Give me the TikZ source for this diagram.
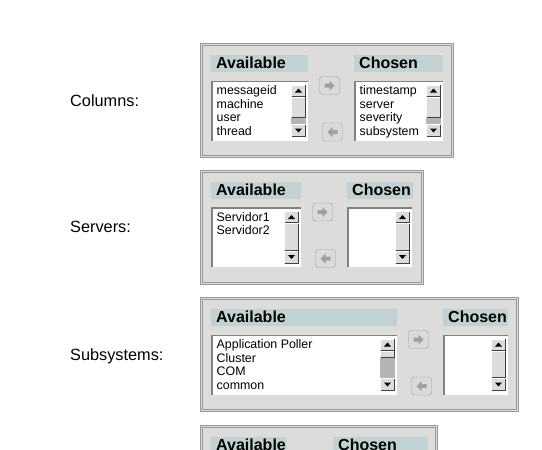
\documentclass[tikz,border=0pt]{standalone}
\usepackage{fontspec}
\setmainfont{Liberation Sans}
\definecolor{panelgray}{HTML}{DCDCDC}
\definecolor{edgegray}{HTML}{989898}
\definecolor{framegray}{HTML}{808080}
\definecolor{headteal}{HTML}{C2D1D1}
\definecolor{troughgray}{HTML}{B4B4B4}
\definecolor{btnfill}{HTML}{DADADA}
\definecolor{btnedge}{HTML}{A0A0A0}
\definecolor{arrowgray}{HTML}{A0A0A0}

\tikzset{
  rowlabel/.style={anchor=base west, inner sep=0pt, font=\fontsize{16.3}{19}\selectfont},
  headtext/.style={anchor=base west, inner sep=0pt, font=\fontsize{16}{18}\selectfont\bfseries},
  itemtext/.style={anchor=base west, inner sep=0pt, font=\fontsize{12.4}{14}\selectfont},
}

% etched panel: x1 y1 x2 y2
\newcommand{\panelbox}[4]{%
  \fill[panelgray] (#1,#2) rectangle (#3,#4);
  \draw[edgegray] (#1+0.5,#2+0.5) rectangle (#3-0.5,#4-0.5);
  \draw[edgegray] (#1+2.5,#2+2.5) rectangle (#3-2.5,#4-2.5);
}
% header strip: name x1 y1 x2 text
\newcommand{\headbox}[5]{%
  \fill[headteal] (#2,#3) rectangle (#4,#3+17);
  \node[headtext] (#1) at (#2+5,#3+13.6) {#5};
}
% raised 3d box: x1 y1 x2 y2
\newcommand{\raisedbox}[4]{%
  \fill[panelgray] (#1,#2) rectangle (#3,#4);
  \draw[white] (#1+0.5,#4-0.5) |- (#3-0.5,#2+0.5);
  \draw[black!75] (#1+0.5,#4-0.5) -| (#3-0.5,#2+0.5);
}
% list with scrollbar: x1 y1 x2 y2 thumb-end
\newcommand{\listbox}[5]{%
  \fill[white] (#1,#2) rectangle (#3,#4);
  \draw[framegray, line width=1.5pt] (#1+0.75,#4) |- (#3,#2+0.75);
  \pgfmathsetmacro\sxa{#3-17}\pgfmathsetmacro\sxb{#3-2}\pgfmathsetmacro\sxc{#3-9.5}
  \fill[troughgray] (\sxa,#5) rectangle (\sxb,#4-16.5);
  \raisedbox{\sxa}{#2+4}{\sxb}{#2+16}
  \raisedbox{\sxa}{#2+16}{\sxb}{#5}
  \raisedbox{\sxa}{#4-16.5}{\sxb}{#4-3.5}
  \fill (\sxc-3.5,#2+12) -- (\sxc+3.5,#2+12) -- (\sxc,#2+8) -- cycle;
  \fill (\sxc-3.5,#4-12) -- (\sxc+3.5,#4-12) -- (\sxc,#4-8) -- cycle;
}
% move button: x1 y1 x2 y2 dir
\newcommand{\movebtn}[5]{%
  \draw[btnedge, fill=btnfill, rounded corners=3pt] (#1+0.5,#2+0.5) rectangle (#3-0.5,#4-0.5);
  \pgfmathsetmacro\bcx{(#1+#3)/2}\pgfmathsetmacro\bcy{(#2+#4)/2}
  \pgfmathsetmacro\bdx{5*#5}
  \fill[arrowgray] (\bcx-\bdx,\bcy-2) -- (\bcx,\bcy-2) -- (\bcx,\bcy-5)
    -- (\bcx+\bdx,\bcy) -- (\bcx,\bcy+5) -- (\bcx,\bcy+2) -- (\bcx-\bdx,\bcy+2) -- cycle;
}

\begin{document}
\begin{tikzpicture}[x=1pt,y=-1pt]
  \useasboundingbox (0,0) rectangle (542,450);
  \clip (0,0) rectangle (542,450);
  \fill[white] (0,0) rectangle (542,450);

  % columns
  \node[rowlabel] (columns) at (70,106) {Columns:};
  \panelbox{200}{43}{454}{158}
  \headbox{colsavail}{211}{55}{308}{Available}
  \headbox{colschosen}{354}{55}{443}{Chosen}
  \listbox{211}{80.5}{308}{140.5}{117.5}
  \listbox{354}{80.5}{443}{140.5}{117.5}
  \movebtn{319}{76}{340}{95}{1}
  \movebtn{322}{122.5}{343}{141.5}{-1}
  \foreach \t [count=\i] in {messageid,machine,user,thread}
    \node[itemtext] (colsa\i) at (216.5,{80.5+14+(\i-1)*13.7}) {\t};
  \foreach \t [count=\i] in {timestamp,server,severity,subsystem}
    \node[itemtext] (colsc\i) at (359.5,{80.5+14+(\i-1)*13.7}) {\t};

  % servers
  \node[rowlabel] (servers) at (70,232.5) {Servers:};
  \panelbox{200}{169.5}{424}{284.5}
  \headbox{servavail}{211}{181.5}{301}{Available}
  \headbox{servchosen}{347}{181.5}{413}{Chosen}
  \listbox{211}{207}{301}{267}{250.5}
  \listbox{347}{207}{412}{267}{250.5}
  \movebtn{312}{202.5}{333}{221.5}{1}
  \movebtn{315}{249}{336}{268}{-1}
  \foreach \t [count=\i] in {Servidor1,Servidor2}
    \node[itemtext] (serva\i) at (216.5,{207+14+(\i-1)*13.7}) {\t};

  % subsystems
  \node[rowlabel] (subsystems) at (70,360) {Subsystems:};
  \panelbox{200}{297}{519}{412}
  \headbox{subsavail}{211}{309}{397}{Available}
  \headbox{subschosen}{443}{309}{508}{Chosen}
  \listbox{211}{334.5}{397}{394.5}{357.5}
  \listbox{443}{334.5}{508}{394.5}{378}
  \movebtn{408}{330}{429}{349}{1}
  \movebtn{411}{376.5}{432}{395.5}{-1}
  \foreach \t [count=\i] in {Application Poller,Cluster,COM,common}
    \node[itemtext] (subsa\i) at (216.5,{334.5+14+(\i-1)*13.7}) {\t};

  % next selector, cut by the page edge
  \panelbox{200}{425}{438}{540}
  \headbox{moreavail}{211}{437}{287}{Available}
  \headbox{morechosen}{333}{437}{428}{Chosen}
\end{tikzpicture}
\end{document}
